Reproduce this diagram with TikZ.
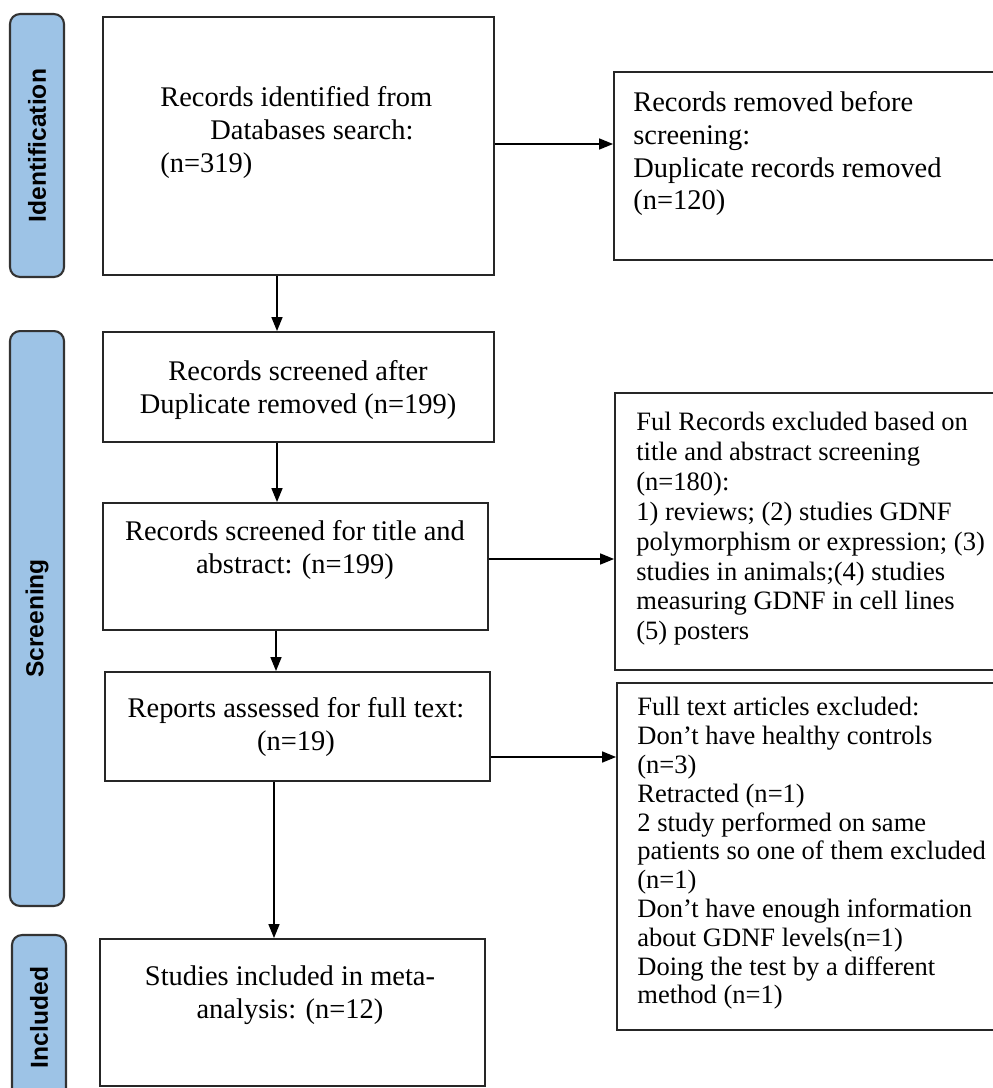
\documentclass[tikz,border=0pt]{standalone}
\usepackage{fontspec}
\setmainfont{Liberation Serif}
\newfontfamily\barfont{Liberation Sans}
\usetikzlibrary{arrows.meta}
\definecolor{phaseblue}{HTML}{9DC3E6}

\tikzset{
  box/.style={draw=black!85, line width=1.1pt, minimum width=7.7cm},
  phase/.style={draw=black!80, fill=phaseblue, line width=1.2pt, rounded corners=0.2cm,
    rotate=90, minimum height=1.08cm, font=\barfont\fontsize{14}{16}\selectfont\bfseries},
  main/.style={font=\fontsize{16.2}{18.7}\selectfont, align=center, inner sep=0pt},
  side/.style={font=\fontsize{15.1}{17}\selectfont, align=left, inner sep=0pt, anchor=north west},
  arr/.style={line width=0.9pt, -{Triangle[length=0.28cm,width=0.22cm]}}
}

\begin{document}
\begin{tikzpicture}[x=0.02cm, y=-0.02cm]
    \useasboundingbox (0,0) rectangle (993,1088);
    \clip (0,0) rectangle (993,1088);
    % phases
    \node[phase, minimum width=5.26cm] (idbar) at (37,145.5) {Identification};
    \node[phase, minimum width=11.5cm] (scrbar) at (37,618.5) {Screening};
    \node[phase, minimum width=3.3cm] (incbar) at (39,1017.5) {Included};
    % boxes
    \node[box, minimum width=7.82cm, minimum height=5.16cm] (ident) at (298.5,146) {};
    \node[box, minimum width=7.72cm, minimum height=3.76cm] (dup) at (807,166) {};
    \node[box, minimum width=7.82cm, minimum height=2.2cm] (scr) at (298.5,387) {};
    \node[box, minimum height=2.54cm] (tit) at (295.5,566.5) {};
    \node[box, minimum height=2.18cm] (full) at (297.5,726.5) {};
    \node[box, minimum height=2.94cm] (incl) at (292.5,1012.5) {};
    \node[box, minimum height=5.54cm] (exc1) at (807.5,531.5) {};
    \node[box, minimum width=7.66cm, minimum height=6.94cm] (exc2) at (808.5,856.5) {};
    % texts
    \node[main, align=left, anchor=north west] (ident-t) at (160,86)
      {Records identified from\\\hspace*{1cm}Databases search:\\(n=319)};
    \node[main, align=left, anchor=north west] (dup-t) at (633,91)
      {Records removed before\\screening:\\Duplicate records removed\\(n=120)};
    \node[main] (scr-t) at (298,390) {Records screened after\\Duplicate removed (n=199)};
    \node[main] (tit-t) at (295,550) {Records screened for title and\\abstract: (n=199)};
    \node[main] (full-t) at (296,727) {Reports assessed for full text:\\(n=19)};
    \node[main] (incl-t) at (290,995) {Studies included in meta-\\analysis: (n=12)};
    \node[side] (exc1-t) at (636,412)
      {Ful Records excluded based on\\title and abstract screening\\(n=180):\\1) reviews; (2) studies GDNF\\polymorphism or expression; (3)\\studies in animals;(4) studies\\measuring GDNF in cell lines\\(5) posters};
    \node[side, font=\fontsize{15.1}{16.4}\selectfont] (exc2-t) at (637,697)
      {Full text articles excluded:\\Don't have healthy controls\\(n=3)\\Retracted (n=1)\\2 study performed on same\\patients so one of them excluded\\(n=1)\\Don't have enough information\\about GDNF levels(n=1)\\Doing the test by a different\\method (n=1)};
    % arrows
    \draw[arr] (ident.east |- 0,144) -- (dup.west |- 0,144);
    \draw[arr] (ident.south -| 277,0) -- (scr.north -| 277,0);
    \draw[arr] (scr.south -| 277,0) -- (tit.north -| 277,0);
    \draw[arr] (tit.south -| 276,0) -- (full.north -| 276,0);
    \draw[arr] (tit.east |- 0,559) -- (exc1.west |- 0,559);
    \draw[arr] (full.east |- 0,757) -- (exc2.west |- 0,757);
    \draw[arr] (full.south -| 274,0) -- (incl.north -| 274,0);
\end{tikzpicture}
\end{document}
